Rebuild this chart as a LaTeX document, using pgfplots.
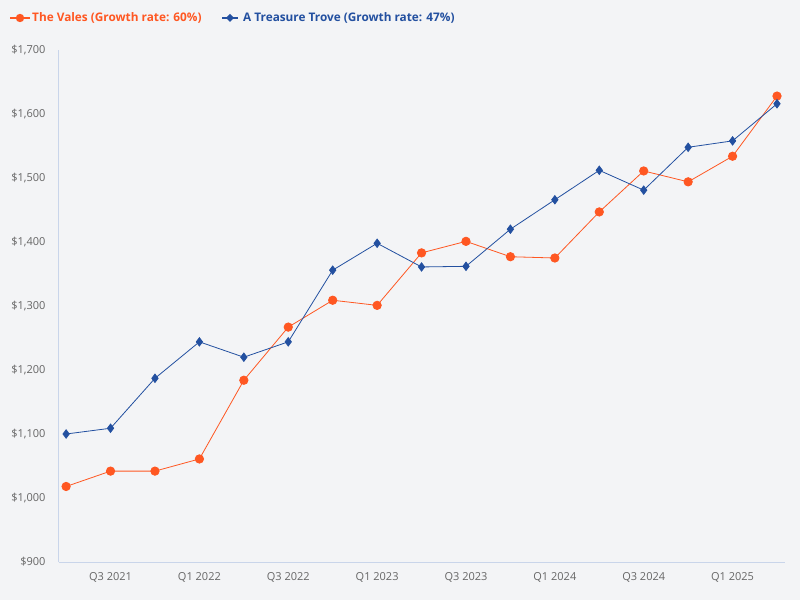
\documentclass[border=0pt]{standalone}
\usepackage{pgfplots}
\pgfplotsset{compat=1.18}
\usepackage{fontspec}
\setmainfont{Open Sans}
\definecolor{bg}{HTML}{F3F4F6}
\definecolor{vales}{HTML}{FF5722}
\definecolor{trove}{HTML}{2350A0}
\definecolor{axl}{HTML}{C9D5EA}
\definecolor{tick}{HTML}{666666}
\begin{document}
\begin{tikzpicture}[x=1pt,y=1pt]
\fill[bg] (0,0) rectangle (800,600);
\begin{axis}[
  at={(59pt,38pt)}, anchor=south west,
  scale only axis, width=726pt, height=512pt,
  xmin=-0.16, xmax=16.18, ymin=900, ymax=1700,
  axis x line*=bottom, axis y line*=left,
  axis line style={axl, line width=1pt, -},
  xtick={1,3,5,7,9,11,13,15},
  xticklabels={Q3 2021,Q1 2022,Q3 2022,Q1 2023,Q3 2023,Q1 2024,Q3 2024,Q1 2025},
  ytick={900,1000,...,1700},
  yticklabels={{\$900},{\$1,000},{\$1,100},{\$1,200},{\$1,300},{\$1,400},{\$1,500},{\$1,600},{\$1,700}},
  major tick length=0pt,
  tick label style={font=\fontsize{11}{13}\selectfont, text=tick},
  xticklabel style={yshift=-7pt},
  yticklabel style={xshift=-10pt},
  /pgf/number format/assume math mode=true,
  clip=false,
]
\addplot[color=vales, line width=0.8pt, mark=*, mark size=4.2pt, mark options={fill=vales, draw=vales}]
coordinates {(0,1018)(1,1042)(2,1042)(3,1061)(4,1184)(5,1267)(6,1309)(7,1301)(8,1383)(9,1401)(10,1377)(11,1375)(12,1447)(13,1511)(14,1494)(15,1534)(16,1628)};
\addplot[color=trove, line width=0.8pt, mark=diamond*, mark size=4.2pt, mark options={fill=trove, draw=trove}]
coordinates {(0,1100)(1,1109)(2,1187)(3,1244)(4,1220)(5,1244)(6,1356)(7,1398)(8,1361)(9,1362)(10,1420)(11,1466)(12,1512)(13,1481)(14,1548)(15,1558)(16,1616)};
\end{axis}
% legend
\draw[vales, line width=1.2pt] (10,582) -- (30,582);
\fill[vales] (20,582) circle (4.2);
\node[anchor=west, inner sep=0pt, text=vales, font=\fontsize{11.8}{14}\bfseries\selectfont] at (32,582) {The Vales (Growth rate: 60\%)};
\draw[trove, line width=1.2pt] (222,582) -- (238,582);
\fill[trove] (230,586) -- (234,582) -- (230,578) -- (226,582) -- cycle;
\node[anchor=west, inner sep=0pt, text=trove, font=\fontsize{11.8}{14}\bfseries\selectfont] at (243,582) {A Treasure Trove (Growth rate: 47\%)};
\end{tikzpicture}
\end{document}
